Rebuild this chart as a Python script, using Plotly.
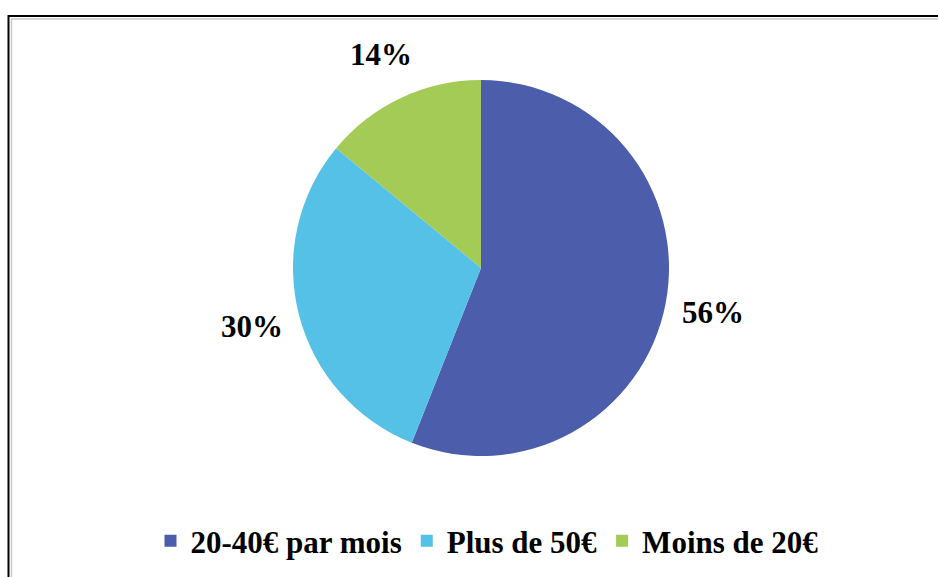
import math
import plotly.graph_objects as go

labels = ["20-40€ par mois", "Plus de 50€", "Moins de 20€"]
values = [56, 30, 14]
colors = ["#4b5dab", "#56c1e7", "#a3cb56"]

W, H = 938, 577
cx, cy, r = 481, 268, 188
label_r = 236
FONT = "Liberation Serif, Times New Roman, serif"

fig = go.Figure(go.Pie(
    labels=labels, values=values, sort=False, direction="clockwise", rotation=0,
    marker=dict(colors=colors, line=dict(width=0)),
    textinfo="none", hoverinfo="label+percent",
    domain=dict(x=[(cx - r) / W, (cx + r) / W], y=[1 - (cy + r) / H, 1 - (cy - r) / H]),
))

total = sum(values)
cum = 0
annotations = []
for v in values:
    mid = (cum + v / 2) / total * 2 * math.pi
    cum += v
    px = cx + label_r * math.sin(mid)
    py = cy - label_r * math.cos(mid)
    annotations.append(dict(
        x=px / W, y=1 - py / H, xref="paper", yref="paper", showarrow=False,
        text=f"{round(v / total * 100)}%", xanchor="center", yanchor="middle",
        font=dict(family=FONT, size=31, color="black", weight="bold"),
    ))

fig.update_layout(
    width=W, height=H, margin=dict(l=0, r=0, t=0, b=0),
    paper_bgcolor="white", plot_bgcolor="white",
    annotations=annotations,
    showlegend=True,
    legend=dict(orientation="h", x=487 / W, xanchor="center", y=1 - 541 / H, yanchor="middle",
                font=dict(family=FONT, size=31, color="black", weight="bold"),
                itemwidth=30, traceorder="normal"),
    shapes=[
        dict(type="rect", xref="paper", yref="paper", x0=8.5 / W, x1=1.05, y0=-0.05, y1=1 - 16 / H,
             line=dict(color="black", width=2)),
        dict(type="rect", xref="paper", yref="paper", x0=11.5 / W, x1=1.05, y0=-0.05, y1=1 - 19 / H,
             line=dict(color="#c8c8c8", width=1.5)),
    ],
)

fig.write_html("out.html", config={"displayModeBar": False},
               post_script="document.body.style.margin='0px';")
